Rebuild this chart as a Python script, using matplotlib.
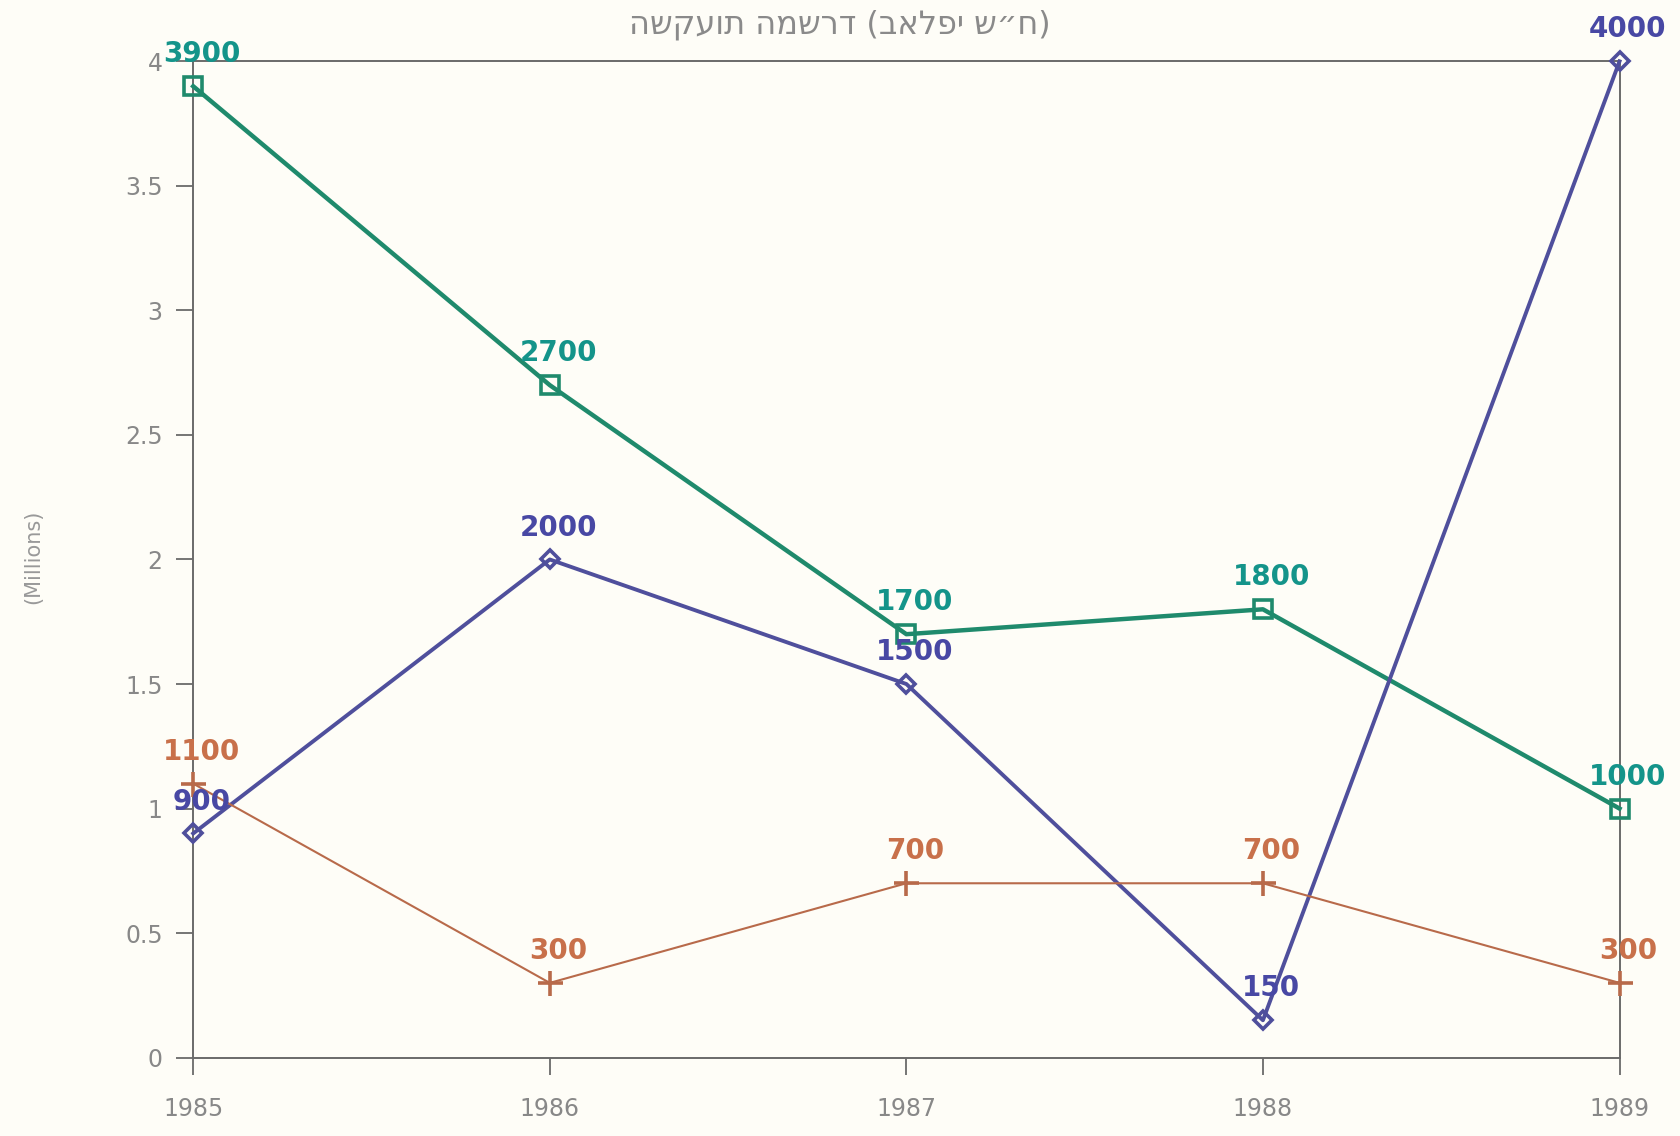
import matplotlib.pyplot as plt

# שנים וערכים (באלפי ש"ח)
years = [1985, 1986, 1987, 1988, 1989]
green_vals = [3900, 2700, 1700, 1800, 1000]
blue_vals = [900, 2000, 1500, 150, 4000]
orange_vals = [1100, 300, 700, 700, 300]

title = "השקעות המשרד (באלפי ש״ח)"
ylabel = "(Millions)"
yticks = [0, 0.5, 1, 1.5, 2, 2.5, 3, 3.5, 4]
ytick_labels = ["0", "0.5", "1", "1.5", "2", "2.5", "3", "3.5", "4"]

plt.rcParams['font.family'] = ['DejaVu Sans']

fig = plt.figure(figsize=(16.8, 11.36), dpi=100, facecolor='#fefdf7')
ax = fig.add_axes([0.115, 0.069, 0.849, 0.877])
ax.set_facecolor('#fefdf7')

series = [
    (green_vals, '#1f8a6c', '#14948a', 's', 13, 3.2),
    (blue_vals, '#4f4f9c', '#4848a4', 'D', 9, 2.8),
    (orange_vals, '#b86a4a', '#c8704a', '+', 18, 1.5),
]

for vals, lc, tc, mk, ms, lw in series:
    ys = [v / 1000 for v in vals]
    ax.plot(years, ys, color=lc, lw=lw, marker=mk, ms=ms,
            mfc='none', mec=lc, mew=2.6, clip_on=False, zorder=3)
    for x, y, v in zip(years, ys, vals):
        ax.annotate(str(v), (x, y), xytext=(6, 23), textcoords='offset points',
                    ha='center', va='center', fontsize=20, fontweight='bold',
                    color=tc, zorder=4, annotation_clip=False)

ax.set_xlim(1985, 1989)
ax.set_ylim(0, 4)
ax.set_xticks(years)
ax.set_xticklabels([str(y) for y in years])
ax.set_yticks(yticks)
ax.set_yticklabels(ytick_labels)

for s in ax.spines.values():
    s.set_color('#6a6a6a')
    s.set_linewidth(1.4)

ax.tick_params(direction='out', length=12, width=1.3, colors='#6a6a6a',
               labelsize=17, labelcolor='#888888')
ax.tick_params(axis='x', pad=16)
ax.tick_params(axis='y', pad=10)

fig.text(0.02, 0.51, ylabel, rotation=90, ha='center', va='center',
         fontsize=15, color='#999999')
fig.text(0.5, 0.978, title, ha='center', va='center', fontsize=23,
         color='#8a8a8a')

plt.savefig('out.png', dpi=100, facecolor=fig.get_facecolor())
